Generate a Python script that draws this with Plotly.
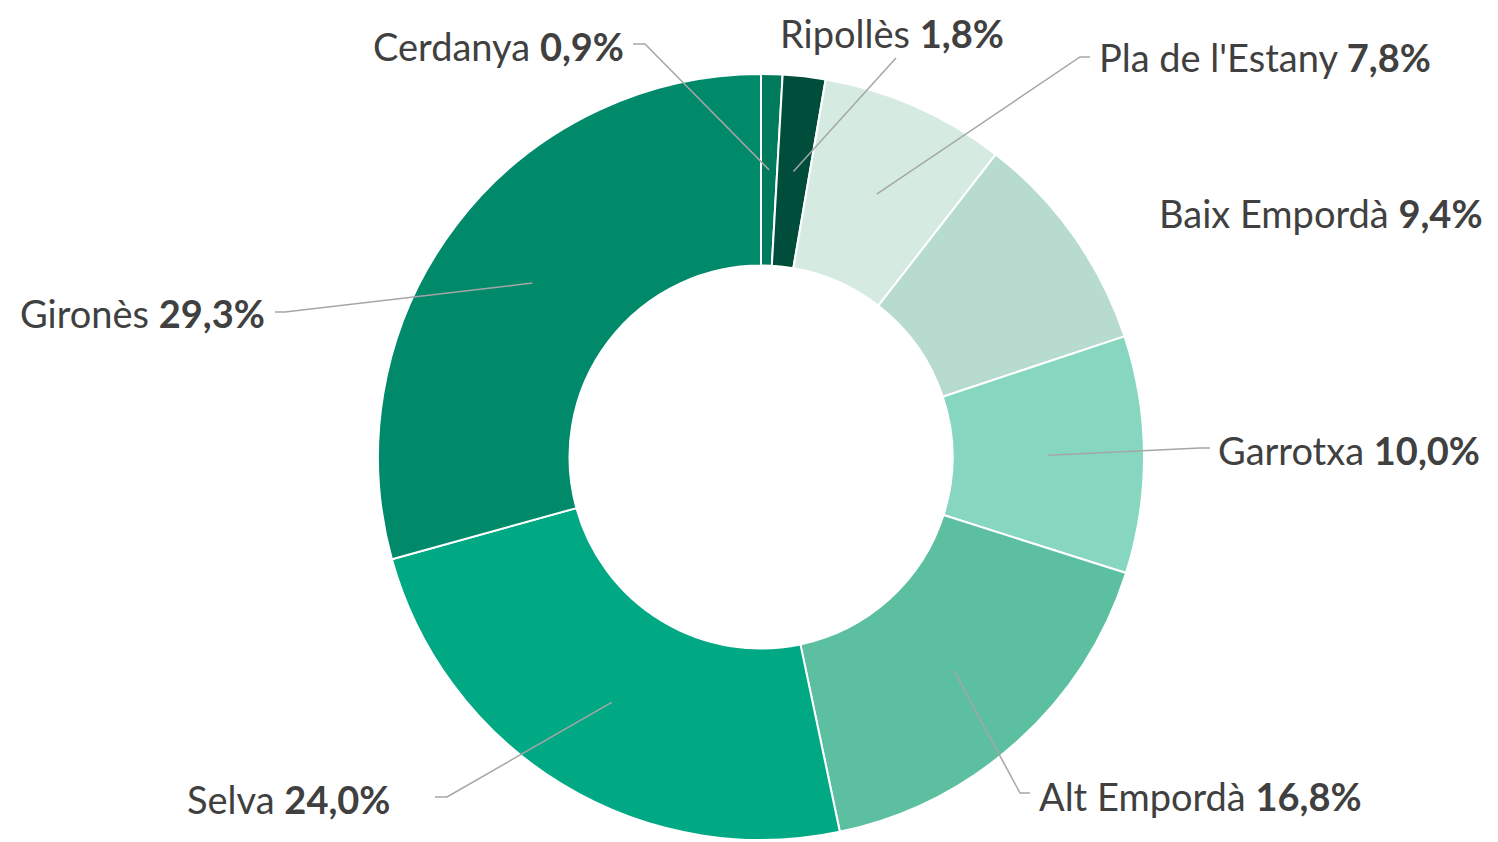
import math
import plotly.graph_objects as go

# ---- data ----
comarques = ["Cerdanya", "Ripollès", "Pla de l'Estany", "Baix Empordà",
             "Garrotxa", "Alt Empordà", "Selva", "Gironès"]
percentatges = [0.9, 1.8, 7.8, 9.4, 10.0, 16.8, 24.0, 29.3]
colors = ["#007a5c", "#004d3c", "#d5ebe1", "#b7dccf",
          "#86d6c0", "#5bbfa0", "#00a883", "#008a6a"]

OFF = 8  # page body margin
W, H = 1498 - OFF, 842 - OFF
CX, CY, R = 761, 457, 383
HOLE = 0.5

# label layout (screen pixels): anchor x, y, xanchor, elbow point, line end point
label_layout = [
    (623, 46, "right", (645, 44), (633, 44)),
    (781, 33, "left", (896, 58), None),
    (1100, 57, "left", (1080, 57), (1090, 57)),
    (1160, 213, "left", None, None),
    (1219, 450, "left", (1200, 448), (1210, 448)),
    (1040, 796, "left", (1020, 793), (1030, 793)),
    (390, 799, "right", (447, 797), (435, 797)),
    (264, 313, "right", (285, 312), (275, 312)),
]

def px(x):
    return (x - OFF) / W

def py(y):
    return 1 - (y - OFF) / H

fig = go.Figure(go.Pie(
    labels=comarques,
    values=percentatges,
    sort=False,
    direction="clockwise",
    rotation=0,
    hole=HOLE,
    marker=dict(colors=colors, line=dict(color="white", width=2)),
    textinfo="none",
    hoverinfo="label+percent",
    showlegend=False,
    domain=dict(x=[px(CX - R), px(CX + R)], y=[py(CY + R), py(CY - R)]),
))

total = sum(percentatges)
cum = 0.0
shapes = []
annotations = []
rmid = R * (1 + HOLE) / 2
for name, v, lay in zip(comarques, percentatges, label_layout):
    mid = (cum + v / 2) / total * 2 * math.pi
    cum += v
    sx = CX + rmid * math.sin(mid)
    sy = CY - rmid * math.cos(mid)
    lx, ly, anchor, elbow, end = lay
    if elbow is not None:
        path = f"M {px(sx)} {py(sy)} L {px(elbow[0])} {py(elbow[1])}"
        if end is not None:
            path += f" L {px(end[0])} {py(end[1])}"
        shapes.append(dict(type="path", xref="paper", yref="paper", path=path,
                           line=dict(color="#a6a6a6", width=1.5)))
    txt = f"{name} <b>{v:.1f}%</b>".replace(".", ",")
    annotations.append(dict(x=px(lx), y=py(ly), xref="paper", yref="paper",
                            text=txt, showarrow=False, xanchor=anchor, yanchor="middle",
                            xshift=-3 if anchor == "left" else 3,
                            font=dict(family="Lato", size=38, color="#404040")))

fig.update_layout(
    width=W, height=H,
    margin=dict(l=0, r=0, t=0, b=0),
    paper_bgcolor="white", plot_bgcolor="white",
    shapes=shapes, annotations=annotations,
)

fig.write_html("out.html")
